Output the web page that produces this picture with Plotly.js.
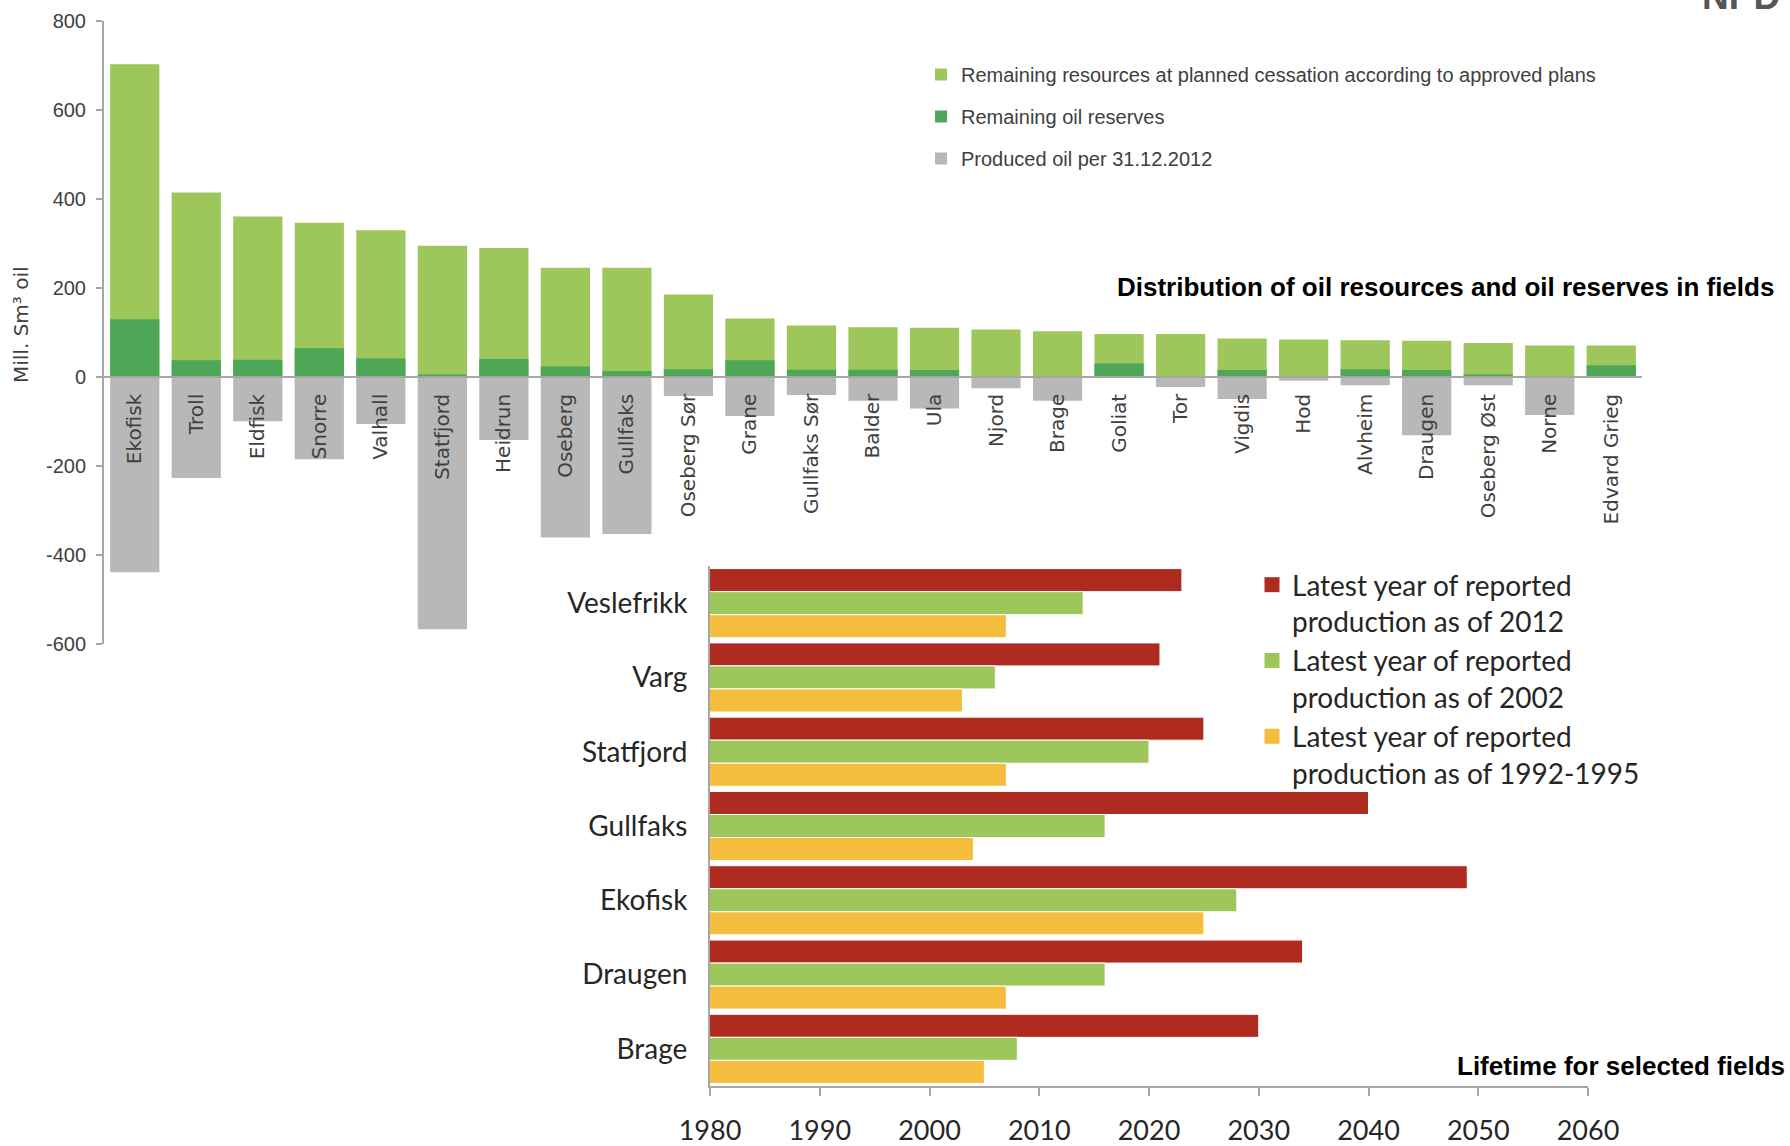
<!DOCTYPE html>
<html><head><meta charset="utf-8">
<script src="https://cdn.plot.ly/plotly-3.0.1.min.js"></script>
<style>html,body{margin:0;padding:0;background:#fff}</style>
</head><body><div id="chart" style="width:1790px;height:1146px"></div>
<script>
// ---- Top chart data (Mill. Sm3 oil) ----
const fields = ['Ekofisk','Troll','Eldfisk','Snorre','Valhall','Statfjord','Heidrun','Oseberg','Gullfaks','Oseberg Sør','Grane','Gullfaks Sør','Balder','Ula','Njord','Brage','Goliat','Tor','Vigdis','Hod','Alvheim','Draugen','Oseberg Øst','Norne','Edvard Grieg'];
const remainingAtCessation = [702,414,360,346,329,294,289,245,245,185,131,115,111,110,106,102,96,96,86,84,82,81,76,70,70];
const remainingReserves = [129,37,38,64,41,5,40,23,13,17,37,16,16,15,1,1,30,1,15,1,17,15,5,1,26];
const producedOil = [-439,-227,-100,-185,-106,-567,-142,-361,-353,-43,-88,-41,-54,-71,-26,-54,-1,-23,-50,-9,-19,-131,-19,-86,-1];
const yTickVals = [-600,-400,-200,0,200,400,600,800];
const yTickText = ['-600','-400','-200','0','200','400','600','800'];

// ---- Bottom chart data (year) ----
const lifetimeFields = ['Veslefrikk','Varg','Statfjord','Gullfaks','Ekofisk','Draugen','Brage'];
const lastYear2012 = [2023,2021,2025,2040,2049,2034,2030];
const lastYear2002 = [2014,2006,2020,2016,2028,2016,2008];
const lastYear1992 = [2007,2003,2007,2004,2025,2007,2005];
const yearTicks = [1980,1990,2000,2010,2020,2030,2040,2050,2060];

const W = 1790, H = 1146;
const px = v => v / W;
const py = v => 1 - v / H;

const topYDomain = [py(644), py(20.5)];
const zeroPos = topYDomain[0] + (topYDomain[1] - topYDomain[0]) * (600 / 1400);

const narrow = 'Liberation Sans Narrow, Arial Narrow, Liberation Sans, sans-serif';
const calib = 'Lato, Open Sans, sans-serif';

const cRed = '#B02B1F', cGreen = '#9DC65B', cYellow = '#F5BD3D';
const names2 = ['Latest year of reported<br>production as of 2012',
                'Latest year of reported<br>production as of 2002',
                'Latest year of reported<br>production as of 1992-1995'];

const traces = [
  {type:'bar', x: fields, y: remainingAtCessation, xaxis:'x', yaxis:'y', name:'Remaining resources at planned cessation according to approved plans',
   marker:{color:'#9DC75B'}, legend:'legend', legendgroup:'a', hoverinfo:'x+y'},
  {type:'bar', x: fields, y: remainingReserves, xaxis:'x', yaxis:'y', name:'Remaining oil reserves',
   marker:{color:'#4EA758'}, legend:'legend', legendgroup:'b', hoverinfo:'x+y'},
  {type:'bar', x: fields, y: producedOil, xaxis:'x', yaxis:'y', name:'Produced oil per 31.12.2012',
   marker:{color:'#B8B8B8'}, legend:'legend', legendgroup:'c', hoverinfo:'x+y'},

  {type:'bar', orientation:'h', y: lifetimeFields, x: lastYear2012, base:0, width:0.31, offset:-0.465,
   xaxis:'x2', yaxis:'y2', name: names2[0], showlegend:false,
   marker:{color:cRed, line:{color:'#ffffff', width:1}}},
  {type:'bar', orientation:'h', y: lifetimeFields, x: lastYear2002, base:0, width:0.31, offset:-0.155,
   xaxis:'x2', yaxis:'y2', name: names2[1], showlegend:false,
   marker:{color:cGreen, line:{color:'#ffffff', width:1}}},
  {type:'bar', orientation:'h', y: lifetimeFields, x: lastYear1992, base:0, width:0.31, offset:0.155,
   xaxis:'x2', yaxis:'y2', name: names2[2], showlegend:false,
   marker:{color:cYellow, line:{color:'#ffffff', width:1}}}
];
// legend keys for the lifetime chart (larger square symbols)
[cRed, cGreen, cYellow].forEach((c, i) => {
  traces.push({type:'scatter', mode:'markers', x:[null], y:[null], xaxis:'x2', yaxis:'y2',
    name: names2[i], legend:'legend2', legendgroup:'k'+i,
    marker:{symbol:'square', size:15, color:c}, hoverinfo:'skip'});
});

const layout = {
  width: W, height: H,
  margin:{l:0, r:0, t:0, b:0},
  paper_bgcolor:'#ffffff', plot_bgcolor:'rgba(0,0,0,0)',
  barmode:'overlay', bargap:0.2,
  showlegend:true,
  xaxis:{
    domain:[px(104), px(1642)], anchor:'free', position: zeroPos, type:'category',
    showline:true, linecolor:'#A6A6A6', linewidth:2, ticks:'', showgrid:false, zeroline:false,
    tickangle:-90, ticklabelstandoff:8,
    tickfont:{family:'DejaVu Sans, Verdana, sans-serif', size:20, color:'#404040'},
    automargin:false, fixedrange:true
  },
  yaxis:{
    domain: topYDomain, anchor:'x', range:[-600,800],
    tickvals: yTickVals, ticktext: yTickText,
    showline:true, linecolor:'#A6A6A6', linewidth:2, ticks:'outside', ticklen:6, tickcolor:'#A6A6A6', tickwidth:2,
    ticklabelstandoff:6, showgrid:false, zeroline:false,
    tickfont:{family: narrow, size:20, color:'#404040'}, automargin:false
  },
  xaxis2:{
    domain:[px(710), px(1588)], anchor:'y2', range:[1980,2060], tickvals: yearTicks,
    showline:true, linecolor:'#A6A6A6', linewidth:2, ticks:'outside', ticklen:8, tickcolor:'#A6A6A6', tickwidth:2,
    ticklabelstandoff:12, showgrid:false, zeroline:false,
    tickfont:{family: calib, size:27, color:'#262626'}, automargin:false
  },
  yaxis2:{
    domain:[py(1086), py(566)], anchor:'x2', type:'category', autorange:'reversed',
    showline:true, linecolor:'#A6A6A6', linewidth:2, ticks:'', showgrid:false, zeroline:false,
    ticklabelstandoff:15,
    tickfont:{family: calib, size:28, color:'#262626'}, automargin:false
  },
  legend:{
    x: px(921), xanchor:'left', y: py(55), yanchor:'top',
    traceorder:'grouped', tracegroupgap:13, bgcolor:'rgba(0,0,0,0)',
    font:{family: narrow, size:20, color:'#404040'}
  },
  legend2:{
    x: px(1252), xanchor:'left', y: py(560), yanchor:'top', valign:'top',
    traceorder:'grouped', tracegroupgap:0, bgcolor:'rgba(0,0,0,0)',
    font:{family: calib, size:28, color:'#262626'}
  },
  annotations:[
    {text:'Distribution of oil resources and oil reserves in fields', xref:'paper', yref:'paper',
     x: px(1115), y: py(287), xanchor:'left', yanchor:'middle', showarrow:false,
     font:{family:'Liberation Sans, Arial, sans-serif', size:26, weight:'bold', color:'#000000'}},
    {text:'Lifetime for selected fields', xref:'paper', yref:'paper',
     x: px(1455), y: py(1066), xanchor:'left', yanchor:'middle', showarrow:false,
     font:{family:'Liberation Sans, Arial, sans-serif', size:26, weight:'bold', color:'#000000'}},
    {text:'NPD', xref:'paper', yref:'paper',
     x: px(1700), y: py(19), xanchor:'left', yanchor:'bottom', showarrow:false,
     font:{family:'Liberation Sans, Arial, sans-serif', size:37, weight:'bold', color:'#555555'}},
    {text:'Mill. Sm³ oil', xref:'paper', yref:'paper', textangle:-90,
     x: px(21), y: py(325), xanchor:'center', yanchor:'middle', showarrow:false,
     font:{family:'DejaVu Sans, Verdana, sans-serif', size:20, color:'#404040'}}
  ]
};

Plotly.newPlot('chart', traces, layout, {displayModeBar:false, staticPlot:true});
</script></body></html>
